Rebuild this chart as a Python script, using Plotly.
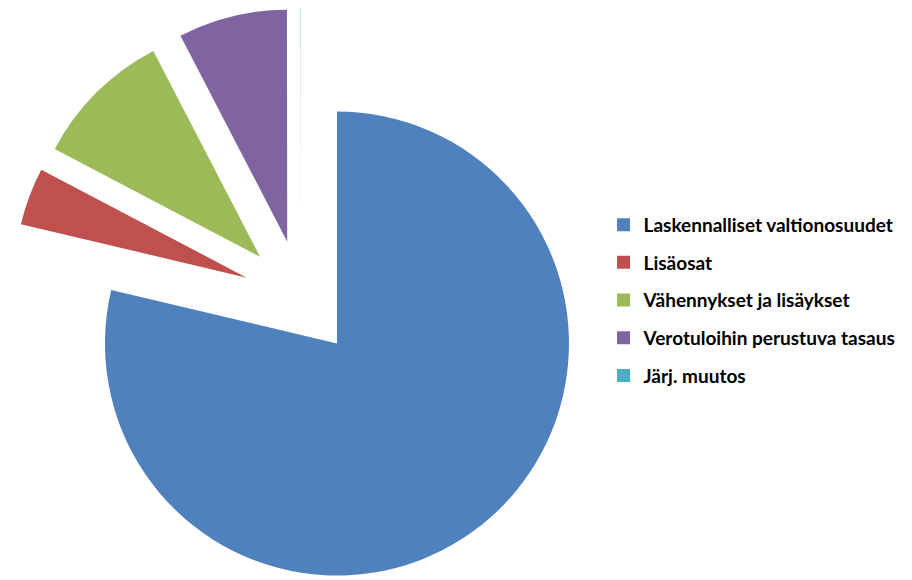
import plotly.graph_objects as go

labels = ["Laskennalliset valtionosuudet", "Lisäosat", "Vähennykset ja lisäykset",
          "Verotuloihin perustuva tasaus", "Järj. muutos"]
values = [78.8, 4.0, 9.7, 7.6, 0.02]
colors = ["#4F81BD", "#C0504D", "#9BBB59", "#8064A2", "#4BACC6"]

W, H = 912, 580
fig = go.Figure()
fig.add_trace(go.Pie(
    labels=labels, values=values, sort=False, direction="clockwise", rotation=0,
    marker=dict(colors=colors, line=dict(width=0)),
    pull=[0.25] * len(values), textinfo="none", hoverinfo="label+percent",
    domain=dict(x=[0, 586 / W], y=[0, 1]), showlegend=False,
))
for lab, col in zip(labels, colors):
    fig.add_trace(go.Scatter(
        x=[None], y=[None], mode="markers", name=lab, legendgroup=lab,
        marker=dict(symbol="square", size=13, color=col),
    ))

fig.update_layout(
    width=W, height=H, margin=dict(l=0, r=0, t=0, b=0),
    paper_bgcolor="white", plot_bgcolor="white",
    xaxis=dict(visible=False), yaxis=dict(visible=False),
    legend=dict(x=0.653, y=0.659, xanchor="left", yanchor="top",
                tracegroupgap=10, traceorder="grouped",
                font=dict(family="Lato", size=19, color="black", weight="bold"),
                itemclick=False),
    font=dict(family="Lato"),
)
fig.write_html("out.html")
